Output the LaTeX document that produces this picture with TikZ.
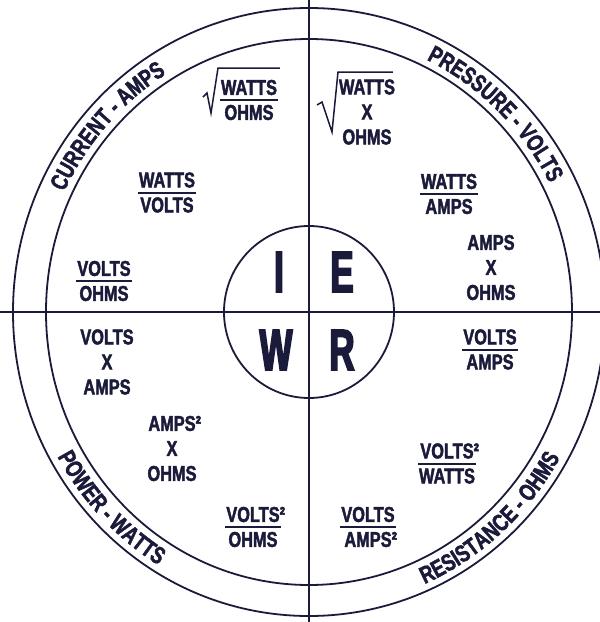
\documentclass[tikz,border=0pt]{standalone}
\usepackage{fontspec}
\usetikzlibrary{decorations.text}
\newfontfamily\labelfont{Liberation Sans}[FakeStretch=0.76,FakeBold=2]
\newfontfamily\letterfont{Liberation Sans}[FakeStretch=0.6,FakeBold=3]
\definecolor{ink}{RGB}{26,26,58}
\newcommand{\ringtext}{\labelfont\bfseries\fontsize{24}{28}\selectfont\color{ink}}

\begin{document}
\begin{tikzpicture}[x=1pt,y=1pt,color=ink,line width=1.8pt,
    lbl/.style={inner sep=0pt, align=center,
      font=\labelfont\bfseries\fontsize{21.5}{25}\selectfont},
    big/.style={inner sep=0pt, font=\letterfont\bfseries\fontsize{58}{60}\selectfont},
    bar/.style={line width=2pt},
    root/.style={line width=1.5pt, line join=miter}]
    \useasboundingbox (-309,-310) rectangle (291,312);

    % Draw rings and cross
    \draw (0,0) ellipse [x radius=296, y radius=304];
    \draw (0,0) ellipse [x radius=263, y radius=273];
    \draw (0,0) ellipse [x radius=85, y radius=86];
    \draw (0,312) -- (0,-310);
    \draw (-309,0) -- (291,0);

    % Ring captions
    \path[decorate, decoration={text along path, text align=center,
        text={|\ringtext|CURRENT - AMPS}}]
        (170:271 and 280) arc[start angle=170, end angle=106, x radius=271, y radius=280];
    \path[decorate, decoration={text along path, text align=center,
        text={|\ringtext|PRESSURE - VOLTS}}]
        (78:271 and 280) arc[start angle=78, end angle=14, x radius=271, y radius=280];
    \path[decorate, decoration={text along path, text align=center,
        text={|\ringtext|POWER - WATTS}}]
        (192:288 and 297) arc[start angle=192, end angle=256, x radius=288, y radius=297];
    \path[decorate, decoration={text along path, text align=center,
        text={|\ringtext|RESISTANCE - OHMS}}]
        (280:288 and 297) arc[start angle=280, end angle=344, x radius=288, y radius=297];

    % Centre letters
    \node[big] (nI) at (-30,40) {I};
    \node[big] (nE) at (33,40) {E};
    \node[big] (nW) at (-33,-38) {W};
    \node[big] (nR) at (33,-38) {R};

    % Current quadrant
    \node[lbl] (wattsOhms) at (-60,212) {WATTS\\OHMS};
    \node[lbl] (wattsVolts) at (-142,119.5) {WATTS\\VOLTS};
    \node[lbl] (voltsOhms) at (-205,31) {VOLTS\\OHMS};
    \draw[bar] (wattsOhms.west) -- (wattsOhms.east);
    \draw[bar] (wattsVolts.west) -- (wattsVolts.east);
    \draw[bar] (voltsOhms.west) -- (voltsOhms.east);
    \draw[root] (-106,215) -- (-102,219) -- (-98,199) -- (-91,244) -- (-29,244);

    % Pressure quadrant
    \node[lbl] (wattsXOhms) at (58,200) {WATTS\\X\\OHMS};
    \node[lbl] (wattsAmps) at (140,118) {WATTS\\AMPS};
    \node[lbl] (ampsXOhms) at (182,44.5) {AMPS\\X\\OHMS};
    \draw[bar] (wattsAmps.west) -- (wattsAmps.east);
    \draw[root] (8,207) -- (13,210) -- (23,180) -- (29,240) -- (84,240);

    % Power quadrant
    \node[lbl] (voltsXAmps) at (-202,-50) {VOLTS\\X\\AMPS};
    \node[lbl] (ampsSqXOhms) at (-137,-136.5) {AMPS\rlap{²}\\X\\OHMS};
    \node[lbl] (voltsSqOhms) at (-56,-215) {VOLTS\rlap{²}\\OHMS};
    \draw[bar] (voltsSqOhms.west) -- (voltsSqOhms.east);

    % Resistance quadrant
    \node[lbl] (voltsAmps) at (181,-37.5) {VOLTS\\AMPS};
    \node[lbl] (voltsSqWatts) at (138,-151.5) {VOLTS\rlap{²}\\WATTS};
    \node[lbl] (voltsAmpsSq) at (59,-215) {VOLTS\\AMPS\rlap{²}};
    \draw[bar] (voltsAmps.west) -- (voltsAmps.east);
    \draw[bar] (voltsSqWatts.west) -- (voltsSqWatts.east);
    \draw[bar] (voltsAmpsSq.west) -- (voltsAmpsSq.east);
\end{tikzpicture}
\end{document}
